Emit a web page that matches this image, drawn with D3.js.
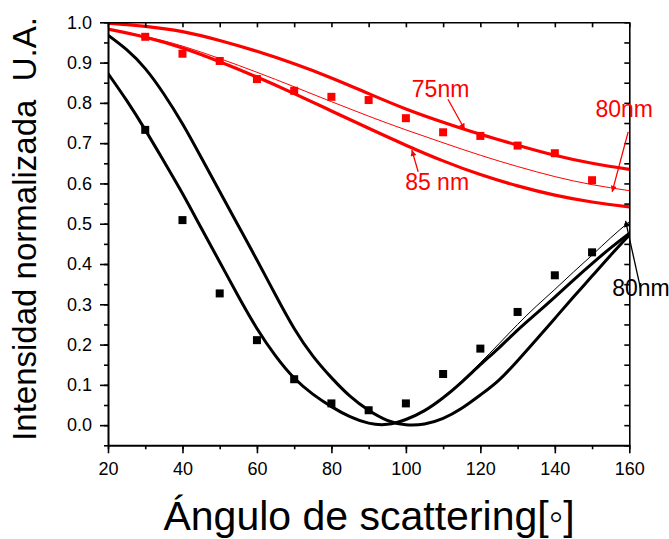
<!DOCTYPE html>
<html>
<head>
<meta charset="utf-8">
<script src="https://cdn.jsdelivr.net/npm/d3@7"></script>
<style>
  body { margin: 0; background: #fff; }
  svg { display: block; font-family: "Liberation Sans", Arial, sans-serif; }
</style>
</head>
<body>
<svg width="669" height="539"></svg>
<script>
// measured points (angle in degrees, normalized intensity)
const measAngles = [30, 40, 50, 60, 70, 80, 90, 100, 110, 120, 130, 140, 150];
const redMeasured = [0.964, 0.922, 0.904, 0.859, 0.830, 0.815, 0.807, 0.762, 0.727, 0.718, 0.694, 0.675, 0.608];
const blackMeasured = [0.733, 0.509, 0.327, 0.211, 0.114, 0.054, 0.037, 0.054, 0.127, 0.190, 0.281, 0.372, 0.429];

// theoretical curves, red ones read every 10 degrees
const redAngles = [20, 30, 40, 50, 60, 70, 80, 90, 100, 110, 120, 130, 140, 150, 160];
const red75 = [0.998, 0.990, 0.977, 0.955, 0.928, 0.897, 0.862, 0.823, 0.785, 0.752, 0.722, 0.695, 0.670, 0.650, 0.635];
const red80 = [0.983, 0.965, 0.941, 0.910, 0.876, 0.840, 0.803, 0.767, 0.733, 0.701, 0.670, 0.642, 0.617, 0.597, 0.582];
const red85 = [0.983, 0.963, 0.936, 0.902, 0.864, 0.823, 0.780, 0.737, 0.695, 0.656, 0.622, 0.594, 0.571, 0.554, 0.542];

// black ones read every 5 degrees
const blackAngles = [20, 25, 30, 35, 40, 45, 50, 55, 60, 65, 70, 75, 80, 85, 90,
                     95, 100, 105, 110, 115, 120, 125, 130, 135, 140, 145, 150, 155, 160];
const blackA = [0.873, 0.806, 0.733, 0.655, 0.575, 0.490, 0.405, 0.320, 0.240, 0.172, 0.117, 0.077, 0.046, 0.021, 0.005,
                0.002, 0.014, 0.036, 0.068, 0.107, 0.150, 0.192, 0.236, 0.277, 0.318, 0.360, 0.401, 0.440, 0.476];
const blackB = [0.968, 0.932, 0.885, 0.822, 0.748, 0.665, 0.580, 0.495, 0.410, 0.323, 0.240, 0.172, 0.118, 0.072, 0.037,
                0.012, 0.001, 0.003, 0.017, 0.042, 0.075, 0.112, 0.160, 0.212, 0.265, 0.318, 0.370, 0.422, 0.472];
const blackC = [0.873, 0.806, 0.733, 0.655, 0.575, 0.490, 0.405, 0.320, 0.240, 0.172, 0.117, 0.077, 0.046, 0.021, 0.005,
                0.002, 0.014, 0.036, 0.069, 0.110, 0.155, 0.202, 0.250, 0.295, 0.337, 0.380, 0.422, 0.465, 0.505];

const xTicks = [20, 40, 60, 80, 100, 120, 140, 160];
const yTicks = [0.0, 0.1, 0.2, 0.3, 0.4, 0.5, 0.6, 0.7, 0.8, 0.9, 1.0];

// annotations: text anchor and arrow (from -> to) in data units
const notes = [
  {text: "75nm", color: "red", tx: 101.6, ty: 0.814, from: [111.3, 0.809], to: [115.8, 0.734]},
  {text: "85 nm", color: "red", tx: 99.8, ty: 0.584, from: [103.3, 0.629], to: [101.6, 0.683]},
  {text: "80nm", color: "red", tx: 150.9, ty: 0.765, from: [159.7, 0.728], to: [155.4, 0.579]},
  {text: "80nm", color: "black", tx: 155.4, ty: 0.320, from: [163.0, 0.340], to: [159.0, 0.507]}
];

const svg = d3.select("svg");
const x = d3.scaleLinear().domain([20, 160]).range([108, 629.3]);
const y = d3.scaleLinear().domain([-0.05, 1.0]).range([445.3, 22.3]);

svg.append("defs").append("clipPath").attr("id", "plot")
  .append("rect").attr("x", x(20)).attr("y", y(1.0)).attr("width", x(160) - x(20)).attr("height", y(-0.05) - y(1.0));

["red", "black"].forEach(c => {
  svg.select("defs").append("marker")
    .attr("id", "arrow-" + c)
    .attr("viewBox", "0 0 10 10")
    .attr("refX", 10).attr("refY", 5)
    .attr("markerWidth", 10).attr("markerHeight", 6)
    .attr("markerUnits", "userSpaceOnUse")
    .attr("orient", "auto")
    .append("path").attr("d", "M0,0 L10,5 L0,10 Z").attr("fill", c);
});

const line = (xs, ys) => d3.line()
  .x((d, i) => x(xs[i]))
  .y(d => y(d))
  .curve(d3.curveNatural)(ys);

const curves = svg.append("g").attr("clip-path", "url(#plot)");
curves.append("path").attr("d", line(redAngles, red75)).attr("fill", "none").attr("stroke", "red").attr("stroke-width", 3.2);
curves.append("path").attr("d", line(redAngles, red85)).attr("fill", "none").attr("stroke", "red").attr("stroke-width", 3.2);
curves.append("path").attr("d", line(redAngles, red80)).attr("fill", "none").attr("stroke", "red").attr("stroke-width", 1);
curves.append("path").attr("d", line(blackAngles, blackA)).attr("fill", "none").attr("stroke", "black").attr("stroke-width", 3);
curves.append("path").attr("d", line(blackAngles, blackB)).attr("fill", "none").attr("stroke", "black").attr("stroke-width", 3);
curves.append("path").attr("d", line(blackAngles, blackC)).attr("fill", "none").attr("stroke", "black").attr("stroke-width", 1);

const sq = 8;
svg.append("g").selectAll("rect").data(measAngles).join("rect")
  .attr("x", d => x(d) - sq / 2).attr("y", (d, i) => y(redMeasured[i]) - sq / 2)
  .attr("width", sq).attr("height", sq).attr("fill", "red");
svg.append("g").selectAll("rect").data(measAngles).join("rect")
  .attr("x", d => x(d) - sq / 2).attr("y", (d, i) => y(blackMeasured[i]) - sq / 2)
  .attr("width", sq).attr("height", sq).attr("fill", "black");

// axes
const minorX = d3.range(20, 161, 10);
const minorY = d3.range(-0.05, 1.0001, 0.05);

function styleAxis(g, width) {
  g.select(".domain").attr("stroke-width", width);
  g.selectAll(".tick line").attr("stroke-width", 1.6);
  g.selectAll("text").attr("font-size", 18).attr("fill", "black").attr("font-family", "Liberation Sans, Arial, sans-serif");
}

svg.append("g").attr("transform", `translate(0,${y(-0.05)})`)
  .call(d3.axisBottom(x).tickValues(minorX).tickSize(4).tickFormat(""))
  .call(g => g.select(".domain").remove())
  .call(g => g.selectAll(".tick line").attr("stroke-width", 1.6));
svg.append("g").attr("transform", `translate(0,${y(-0.05)})`)
  .call(d3.axisBottom(x).tickValues(xTicks).tickSize(8).tickSizeOuter(0).tickPadding(8.5))
  .call(g => styleAxis(g, 2));

svg.append("g").attr("transform", `translate(${x(20)},0)`)
  .call(d3.axisLeft(y).tickValues(minorY).tickSize(4).tickFormat(""))
  .call(g => g.select(".domain").remove())
  .call(g => g.selectAll(".tick line").attr("stroke-width", 1.6));
svg.append("g").attr("transform", `translate(${x(20)},0)`)
  .call(d3.axisLeft(y).tickValues(yTicks).tickSize(8).tickSizeOuter(0).tickPadding(8).tickFormat(d3.format(".1f")))
  .call(g => styleAxis(g, 2));

svg.append("g").attr("transform", `translate(0,${y(1.0)})`)
  .call(d3.axisTop(x).tickValues(minorX).tickSize(-5).tickSizeOuter(0).tickFormat(""))
  .call(g => styleAxis(g, 1.6));
svg.append("g").attr("transform", `translate(${x(160)},0)`)
  .call(d3.axisRight(y).tickValues(minorY).tickSize(-5).tickSizeOuter(0).tickFormat(""))
  .call(g => styleAxis(g, 1.6));

// annotations
notes.forEach(n => {
  svg.append("line")
    .attr("x1", x(n.from[0])).attr("y1", y(n.from[1]))
    .attr("x2", x(n.to[0])).attr("y2", y(n.to[1]))
    .attr("stroke", n.color).attr("stroke-width", 1.3)
    .attr("marker-end", `url(#arrow-${n.color})`);
  svg.append("text")
    .attr("x", x(n.tx)).attr("y", y(n.ty))
    .attr("font-size", 23).attr("fill", n.color)
    .text(n.text);
});

// titles
svg.append("text")
  .attr("transform", "translate(35.5,229) rotate(-90)")
  .attr("text-anchor", "middle")
  .attr("font-size", 33)
  .style("white-space", "pre")
  .text("Intensidad normalizada  U.A.");

svg.append("text")
  .attr("x", 369).attr("y", 530)
  .attr("text-anchor", "middle")
  .attr("font-size", 41)
  .text("Ángulo de scattering[◦]");
</script>
</body>
</html>
